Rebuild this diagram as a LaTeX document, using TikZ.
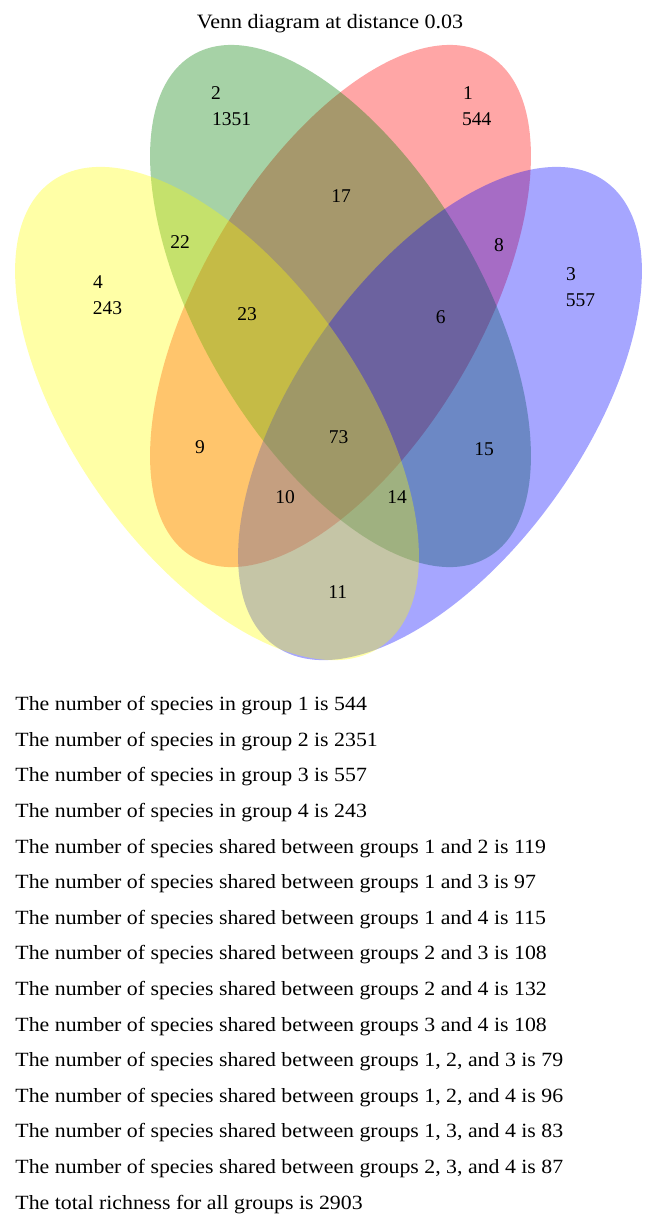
\documentclass[tikz,border=0pt]{standalone}
\usepackage{fontspec}
\setmainfont{Liberation Serif}
\newfontfamily\widefont{Liberation Serif}[FakeStretch=1.08]
\begin{document}
\begin{tikzpicture}[x=1pt,y=-1pt]
\definecolor{vred}{RGB}{255,0,0}
\definecolor{vgreen}{RGB}{0,128,0}
\definecolor{vblue}{RGB}{0,0,255}
\definecolor{vyellow}{RGB}{255,255,0}
\tikzset{
  vennset/.style={fill=#1, fill opacity=0.35},
  num/.style={inner sep=0pt, font=\fontsize{19.5}{22}\selectfont},
  numw/.style={num, anchor=west},
  txtline/.style={inner sep=0pt, anchor=base west, font=\widefont\fontsize{20.2}{24}\selectfont},
  ttl/.style={inner sep=0pt, anchor=base, font=\widefont\fontsize{20.4}{24}\selectfont}
}
\useasboundingbox (0,0) rectangle (657,1229);
\fill[white] (0,0) rectangle (657,1229);
% ellipses: red, green, blue, yellow
\path[vennset=vred, shift={(340.5,306)}, rotate=59.6] (0,0) ellipse [x radius=291.3pt, y radius=139.8pt];
\path[vennset=vgreen, shift={(340.5,306)}, rotate=-59.6] (0,0) ellipse [x radius=291.3pt, y radius=139.8pt];
\path[vennset=vblue, shift={(440,413.5)}, rotate=54.6] (0,0) ellipse [x radius=285pt, y radius=142.6pt];
\path[vennset=vyellow, shift={(217,413.5)}, rotate=-54.6] (0,0) ellipse [x radius=285pt, y radius=142.6pt];
% title
\node[ttl] (title) at (330,28.3) {Venn diagram at distance 0.03};
% set labels
\node[numw] (s2a) at (211,92.7) {2};
\node[numw] (s2b) at (212,119) {1351};
\node[numw] (s1a) at (463,92.7) {1};
\node[numw] (s1b) at (462,119) {544};
\node[numw] (s3a) at (566,274) {3};
\node[numw] (s3b) at (565.7,300) {557};
\node[numw] (s4a) at (93,282) {4};
\node[numw] (s4b) at (92.7,308) {243};
% region labels
\node[num] (r17) at (341,195.7) {17};
\node[num] (r22) at (180,242) {22};
\node[num] (r8) at (499,245) {8};
\node[num] (r23) at (247,314) {23};
\node[num] (r6) at (440.7,316.7) {6};
\node[num] (r73) at (338.7,436.7) {73};
\node[num] (r9) at (200,447) {9};
\node[num] (r15) at (484,449) {15};
\node[num] (r10) at (285,496.7) {10};
\node[num] (r14) at (397,497) {14};
\node[num] (r11) at (337.7,592) {11};
% text lines
\foreach \t [count=\i] in {
  {The number of species in group 1 is 544},
  {The number of species in group 2 is 2351},
  {The number of species in group 3 is 557},
  {The number of species in group 4 is 243},
  {The number of species shared between groups 1 and 2 is 119},
  {The number of species shared between groups 1 and 3 is 97},
  {The number of species shared between groups 1 and 4 is 115},
  {The number of species shared between groups 2 and 3 is 108},
  {The number of species shared between groups 2 and 4 is 132},
  {The number of species shared between groups 3 and 4 is 108},
  {The number of species shared between groups 1, 2, and 3 is 79},
  {The number of species shared between groups 1, 2, and 4 is 96},
  {The number of species shared between groups 1, 3, and 4 is 83},
  {The number of species shared between groups 2, 3, and 4 is 87},
  {The total richness for all groups is 2903}}
  \node[txtline] (line\i) at (15.3,{710.7+(\i-1)*35.6}) {\t};
\end{tikzpicture}
\end{document}
